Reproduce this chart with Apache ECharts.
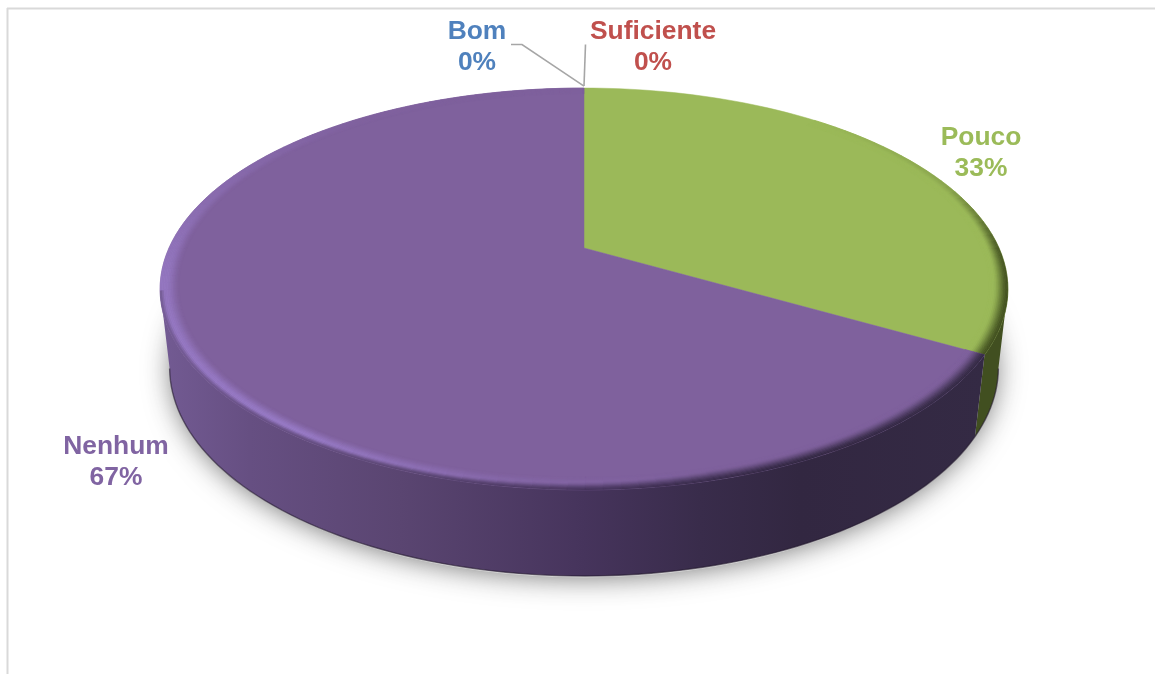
<!DOCTYPE html>
<html>
<head>
<meta charset="utf-8">
<style>html,body{margin:0;padding:0;background:#fff}#c{width:1155px;height:674px}</style>
<script src="https://cdn.jsdelivr.net/npm/echarts@6/dist/echarts.min.js"></script>
</head>
<body>
<div id="c"></div>
<script>
const categories = ['Bom', 'Suficiente', 'Pouco', 'Nenhum'];
const percentages = [0, 0, 33.3, 66.7];

// Look
const labelColors = ['#4f81bd', '#c0504d', '#9bbb59', '#8064a2'];
const faceColors = [[79,129,189], [192,80,77], [155,185,89], [127,97,157]];
const highlightColors = [[79,129,189], [192,80,77], [170,200,105], [153,124,200]];
const labelCenters = [[477, 47], [653, 47], [981, 153], [116, 462]];
const purpleWall = [[165,[114,90,146]],[250,[102,79,130]],[400,[90,69,113]],[584,[70,52,92]],[700,[57,44,75]],[800,[50,39,65]],[985,[52,42,68]]];
const greenWall = [[0,[65,79,32]],[1155,[65,79,32]]];
const wallStops = [null, null, greenWall, purpleWall];

// Perspective of the disc: unit circle -> screen
const cx = 584;
const topPlane = {c:-0.204, a:142, b:248, d:415};
const botPlane = {c:-0.2, a:135, b:325.8, d:406};
const WALL_A = 101.8, WALL_B = 258.2, RIM = 0.044;
const rad = Math.PI / 180;
function proj(pl, r, deg) {
  const x = r * Math.sin(deg * rad), y = -r * Math.cos(deg * rad), w = 1 + pl.c * y;
  return [cx + pl.d * x / w, (pl.a * y + pl.b) / w];
}
const mix = (p, q, t) => [0,1,2].map(i => p[i] + (q[i] - p[i]) * t);
const css = c => 'rgb(' + c.map(v => Math.round(v)).join(',') + ')';
const sstep = (a, b, v) => { const t = Math.max(0, Math.min(1, (v - a) / (b - a))); return t * t * (3 - 2 * t); };
function pw(tab, v) {
  if (v <= tab[0][0]) return tab[0][1];
  for (let i = 1; i < tab.length; i++) if (v <= tab[i][0]) {
    const t = (v - tab[i-1][0]) / (tab[i][0] - tab[i-1][0]);
    return Array.isArray(tab[i][1]) ? mix(tab[i-1][1], tab[i][1], t) : tab[i-1][1] + (tab[i][1] - tab[i-1][1]) * t;
  }
  return tab[tab.length-1][1];
}
const lightTab = [[165,0],[190,0.35],[215,1],[262,0.8],[285,0.45],[320,0.06],[340,0]];
const earlyTab = [[60,0.4],[101,0.7],[165,0.75],[195,0.25],[230,0.1],[259,0],[360,0]];
const backDarkTab = [[40,0],[70,0.2],[90,0.9],[102,1]];

function rimColor(i, deg, u, x) {
  const wall = pw(wallStops[i], x);
  let col = mix(faceColors[i], highlightColors[i], pw(lightTab, deg) * sstep(0, 0.7, u));
  if (deg <= WALL_B) {
    const strength = deg < WALL_A ? pw(backDarkTab, deg) : 1;
    col = mix(col, wall, strength * sstep(0.75 - 0.75 * pw(earlyTab, deg), 1.02, u));
  }
  return col;
}

function renderSlice(params, api) {
  const i = params.dataIndex;
  const value = api.value(1);
  const total = percentages.reduce((s, v) => s + v, 0);
  const before = percentages.slice(0, i).reduce((s, v) => s + v, 0);
  const a0 = before / total * 360, a1 = (before + value) / total * 360;
  const kids = [];
  const rimTopPt = proj(topPlane, 1, 0);

  if (i === 0) {
    const pts = [];
    for (let t = 0; t < 360; t += 3) { const p = proj(botPlane, 0.995, t); pts.push([p[0], p[1] + 3]); }
    kids.push({type:'polygon', shape:{points:pts}, silent:true,
      style:{fill:'#d8d8d8', shadowBlur:28, shadowColor:'rgba(100,100,100,0.9)'}});
  }

  if (value > 0) {
    // wall
    const w0 = Math.max(a0, WALL_A), w1 = Math.min(a1, WALL_B);
    if (w1 > w0) {
      const up = [], down = [];
      for (let t = w0; ; t += 1.5) {
        const d = Math.min(t, w1);
        up.push(proj(topPlane, 1, d)); down.push(proj(botPlane, 1, d));
        if (d >= w1) break;
      }
      const stops = wallStops[i];
      const x0 = stops[0][0], x1 = stops[stops.length-1][0];
      kids.push({type:'polygon', shape:{points: up.concat(down.slice().reverse())}, silent:true,
        style:{fill:new echarts.graphic.LinearGradient(x0,0,x1,0,
          stops.map(s => ({offset:(s[0]-x0)/(x1-x0), color:css(s[1])})), true)}});
      kids.push({type:'polyline', shape:{points:down}, silent:true,
        style:{fill:'none', stroke:'rgba(35,25,45,0.6)', lineWidth:1.4}});
    }
    // top face
    const face = [proj(topPlane, 0, 0)];
    for (let t = a0; ; t += 1.5) {
      const d = Math.min(t, a1);
      face.push(proj(topPlane, 1, d));
      if (d >= a1) break;
    }
    kids.push({type:'polygon', shape:{points:face}, silent:true,
      style:{fill:css(faceColors[i]), stroke:css(faceColors[i]), lineWidth:0.5}});
    // soft bevel on the rim
    const N = 12, step = 2;
    for (let t = a0; t < a1; t += step) {
      const t2 = Math.min(t + step, a1), m = (t + t2) / 2;
      if (pw(lightTab, m) === 0 && pw(backDarkTab, m) === 0 && (m < WALL_A || m > WALL_B)) continue;
      for (let k = 0; k < N; k++) {
        const r0 = 1 - RIM * (1 - k / N), r1 = 1 - RIM * (1 - (k + 1) / N);
        const pm = proj(topPlane, (r0 + r1) / 2, m);
        const c = css(rimColor(i, m, (k + 0.5) / N, pm[0]));
        kids.push({type:'polygon', silent:true,
          shape:{points:[proj(topPlane,r0,t),proj(topPlane,r1,t),proj(topPlane,r1,t2),proj(topPlane,r0,t2)]},
          style:{fill:c, stroke:c, lineWidth:0.5}});
      }
    }
  } else {
    // leader line of a zero slice
    const tip = [rimTopPt[0], rimTopPt[1] - 2];
    const pts = i === 0
      ? [[tip[0] - 73, tip[1] - 41.5], [tip[0] - 62, tip[1] - 41.5], tip]
      : [[tip[0] + 1.5, tip[1] - 41.5], tip];
    kids.push({type:'polyline', shape:{points:pts}, silent:true,
      style:{fill:'none', stroke:'#a6a6a6', lineWidth:1.6}});
  }

  kids.push({type:'text', silent:true, style:{
    text: categories[i] + '\n' + Math.round(value) + '%',
    x: labelCenters[i][0], y: labelCenters[i][1],
    fill: labelColors[i], align:'center', verticalAlign:'middle',
    font:'bold 26.4px "Liberation Sans", Arial, sans-serif', lineHeight:30.5
  }});
  return {type:'group', children:kids};
}

const chart = echarts.init(document.getElementById('c'), null, {renderer:'canvas', width:1155, height:674});
chart.setOption({
  backgroundColor:'#ffffff',
  animation:false,
  graphic:[
    {type:'line', silent:true, shape:{x1:7,y1:8.5,x2:1155,y2:8.5}, style:{stroke:'#d9d9d9',lineWidth:2}},
    {type:'line', silent:true, shape:{x1:7.5,y1:8,x2:7.5,y2:674}, style:{stroke:'#d9d9d9',lineWidth:2}}
  ],
  series:[{
    type:'custom',
    coordinateSystem:'none',
    renderItem:renderSlice,
    data:categories.map((n, i) => ({name:n, value:[i, percentages[i]]}))
  }]
});
</script>
</body>
</html>
